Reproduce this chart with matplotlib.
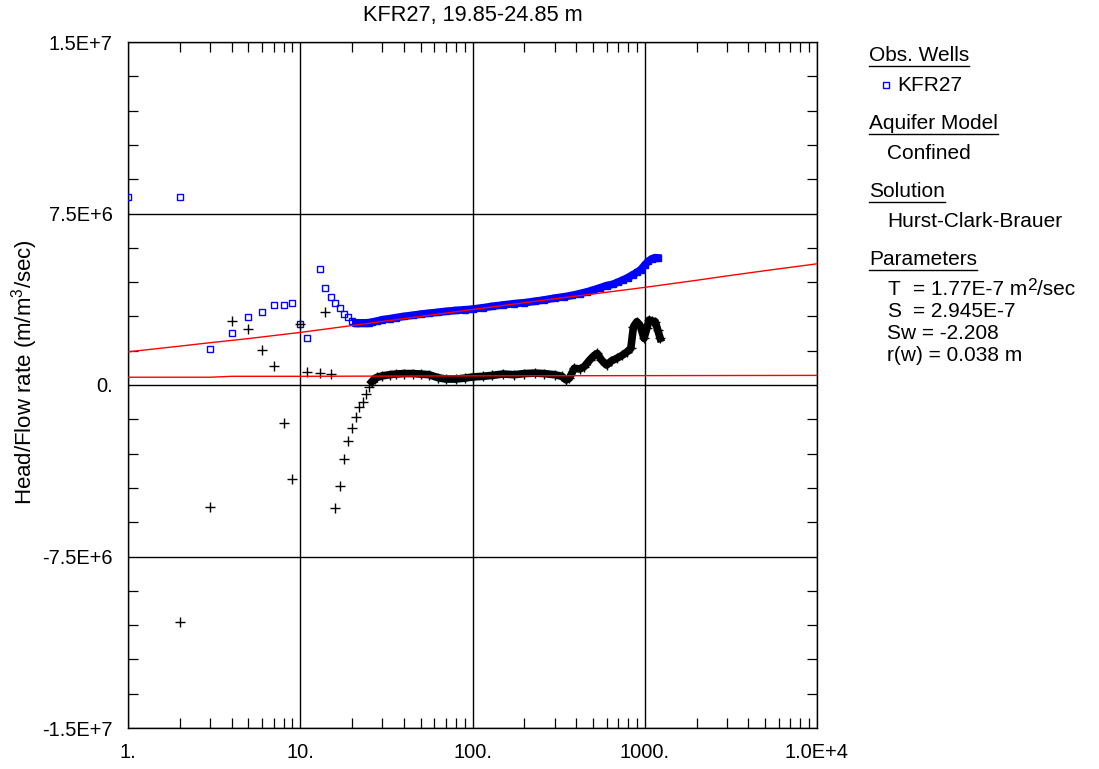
import numpy as np
import matplotlib
matplotlib.use("Agg")
import matplotlib.pyplot as plt
from matplotlib.ticker import FixedLocator, FixedFormatter, LogLocator, MultipleLocator, NullFormatter
from matplotlib.lines import Line2D

plt.rcParams['font.family'] = ['Liberation Sans', 'DejaVu Sans']
plt.rcParams['mathtext.fontset'] = 'custom'
plt.rcParams['mathtext.rm'] = 'Liberation Sans'
plt.rcParams['mathtext.it'] = 'Liberation Sans'

# observed drawdown, early sparse points (time, value)
obs_t = [1, 2, 3, 4, 5, 6, 7, 8, 9, 10, 11, 13, 14, 15, 16, 17, 18, 19, 20, 21]
obs_y = [8.22e6, 8.22e6, 1.57e6, 2.29e6, 2.97e6, 3.2e6, 3.5e6, 3.5e6, 3.59e6, 2.68e6,
         2.06e6, 5.07e6, 4.25e6, 3.86e6, 3.6e6, 3.37e6, 3.12e6, 2.99e6, 2.81e6, 2.72e6]

# observed, dense part (values in 1e6)
obs_t2 = [21, 22, 23, 24, 25, 26, 28, 30, 33, 36, 40, 45, 50, 56, 63, 70, 80, 90, 100,
          115, 130, 150, 175, 200, 230, 260, 300, 340, 380, 420, 460, 500, 550, 600, 650,
          700, 750, 800, 850, 900, 950, 1000, 1050, 1100, 1150, 1190]
obs_y2 = [2.72, 2.72, 2.72, 2.72, 2.73, 2.75, 2.80, 2.86, 2.90, 2.95, 3.00, 3.05, 3.10,
          3.14, 3.18, 3.22, 3.26, 3.29, 3.32, 3.38, 3.44, 3.50, 3.56, 3.60, 3.66, 3.72,
          3.80, 3.86, 3.92, 4.00, 4.07, 4.15, 4.25, 4.35, 4.40, 4.50, 4.60, 4.70, 4.82,
          4.92, 5.05, 5.25, 5.42, 5.52, 5.57, 5.56]

# derivative, early sparse points
der_t = [2, 3, 4, 5, 6, 7, 8, 9, 10, 11, 13, 14, 15, 16, 17, 18, 19, 20, 21, 22, 23, 24, 25]
der_y = [-10.36e6, -5.32e6, 2.81e6, 2.43e6, 1.52e6, 0.84e6, -1.66e6, -4.11e6, 2.68e6,
         0.57e6, 0.52e6, 3.2e6, 0.47e6, -5.36e6, -4.42e6, -3.22e6, -2.45e6, -1.9e6,
         -1.4e6, -0.98e6, -0.73e6, -0.41e6, -0.07e6]

# derivative, dense part (values in 1e6)
der_t2 = [26, 27, 28, 30, 33, 36, 40, 45, 50, 56, 63, 70, 80, 90, 100, 115, 130, 150, 175,
          200, 230, 260, 300, 330, 350, 365, 390, 420, 445, 480, 510, 530, 560, 600, 640,
          690, 740, 790, 830, 860, 900, 940, 990, 1030, 1060, 1100, 1150, 1190, 1230]
der_y2 = [0.14, 0.28, 0.34, 0.40, 0.45, 0.48, 0.50, 0.50, 0.48, 0.45, 0.32, 0.26, 0.26,
          0.30, 0.35, 0.38, 0.42, 0.48, 0.45, 0.50, 0.52, 0.50, 0.45, 0.38, 0.22, 0.30,
          0.73, 0.70, 0.80, 1.10, 1.30, 1.38, 1.10, 0.87, 1.05, 1.17, 1.30, 1.45, 1.60,
          2.55, 2.77, 2.60, 2.04, 2.50, 2.84, 2.80, 2.77, 2.40, 2.04]

# fitted curves (values in 1e6)
fit_t = [1, 2, 3, 5, 10, 20, 30, 50, 100, 200, 300, 500, 1000, 2000, 3000, 5000, 10000]
fit_y = [1.45, 1.70, 1.85, 2.03, 2.30, 2.60, 2.78, 3.00, 3.30, 3.60, 3.77, 3.98, 4.27,
         4.58, 4.77, 5.00, 5.30]
fitd_t = [1, 3, 4, 10, 100, 1000, 10000]
fitd_y = [0.34, 0.34, 0.38, 0.38, 0.40, 0.41, 0.42]

xticks = [1, 10, 100, 1000, 10000]
xlabels = ['1.', '10.', '100.', '1000.', '1.0E+4']
yticks = [-1.5e7, -7.5e6, 0, 7.5e6, 1.5e7]
ylabels = ['-1.5E+7', '-7.5E+6', '0.', '7.5E+6', '1.5E+7']

fs = 14.4
lfs = 15
fig = plt.figure(figsize=(10.99, 7.69), dpi=100)
W, H = 1099, 769
ax = fig.add_axes([128 / W, 1 - 728 / H, 689 / W, 686 / H])

blue = '#0000ff'
ax.plot(fit_t, np.array(fit_y) * 1e6, color='red', lw=1.0, zorder=4)
ax.plot(fitd_t, np.array(fitd_y) * 1e6, color='red', lw=1.0, zorder=4)
ax.plot(obs_t, obs_y, 's', mfc='none', mec=blue, ms=4.5, mew=1.0, zorder=3)
ax.plot(obs_t2, np.array(obs_y2) * 1e6, '-s', color=blue, mfc=blue, mec=blue,
        lw=5.5, ms=4.5, mew=1.0, zorder=3)
ax.plot(der_t, der_y, '+', color='black', ms=7, mew=1.0, zorder=3)
ax.plot(der_t2, np.array(der_y2) * 1e6, '-+', color='black', lw=5.5, ms=7, mew=1.0, zorder=3)

ax.set_xscale('log')
ax.set_xlim(1, 1e4)
ax.set_ylim(-1.5e7, 1.5e7)
ax.xaxis.set_major_locator(FixedLocator(xticks))
ax.xaxis.set_major_formatter(FixedFormatter(xlabels))
ax.xaxis.set_minor_locator(LogLocator(base=10, subs=np.arange(2, 10)))
ax.xaxis.set_minor_formatter(NullFormatter())
ax.yaxis.set_major_locator(FixedLocator(yticks))
ax.yaxis.set_major_formatter(FixedFormatter(ylabels))
ax.yaxis.set_minor_locator(MultipleLocator(1.5e6))
ax.tick_params(which='both', direction='in', top=True, right=True, labelsize=fs)
ax.tick_params(which='major', length=0, pad=11)
ax.tick_params(which='minor', length=7, width=0.9)
ax.grid(True, which='major', color='black', lw=1.0)
ax.set_axisbelow(False)
for s in ax.spines.values():
    s.set_linewidth(1.0)

fig.text(472.5 / W, 1 - 15 / H, 'KFR27, 19.85-24.85 m', ha='center', va='center', fontsize=15.7)
fig.text(25 / W, 1 - 372 / H, 'Head/Flow rate (m/m$^3$/sec)', rotation=90,
         ha='center', va='center', fontsize=16)

# legend panel on the right
heads = [('Obs. Wells', 61), ('Aquifer Model', 129), ('Solution', 197), ('Parameters', 265)]
items = [('Confined', 159), ('Hurst-Clark-Brauer', 227), ('Sw = -2.208', 339),
         ('r(w) = 0.038 m', 361)]
head_objs = []
for txt, yb in heads:
    head_objs.append((fig.text(869 / W, 1 - yb / H, txt, ha='left', va='baseline', fontsize=lfs), yb))
for txt, yb in items:
    fig.text(887 / W, 1 - yb / H, txt, ha='left', va='baseline', fontsize=lfs)
fig.text(897 / W, 1 - 91 / H, 'KFR27', ha='left', va='baseline', fontsize=lfs)
fig.add_artist(Line2D([886 / W], [1 - 85 / H], marker='s', mfc='none', mec=blue, ms=4, mew=1.0))
fig.text(887 / W, 1 - 295 / H, 'T', ha='left', va='baseline', fontsize=lfs)
t_val = fig.text(913 / W, 1 - 295 / H, '= 1.77E-7 m', ha='left', va='baseline', fontsize=lfs)
fig.text(887 / W, 1 - 317 / H, 'S', ha='left', va='baseline', fontsize=lfs)
fig.text(913 / W, 1 - 317 / H, '= 2.945E-7', ha='left', va='baseline', fontsize=lfs)

fig.canvas.draw()
r = fig.canvas.get_renderer()
bb = t_val.get_window_extent(r)
sup = fig.text(bb.x1 / W, 1 - 289.5 / H, '2', ha='left', va='baseline', fontsize=12.5)
fig.canvas.draw()
bb2 = sup.get_window_extent(r)
fig.text(bb2.x1 / W, 1 - 295 / H, '/sec', ha='left', va='baseline', fontsize=lfs)
for t, yb in head_objs:
    bb = t.get_window_extent(r)
    yl = 1 - (yb + 4.5) / H
    fig.add_artist(Line2D([bb.x0 / W, bb.x1 / W], [yl, yl], color='black', lw=1.0))

fig.savefig('out.png', dpi=100)
